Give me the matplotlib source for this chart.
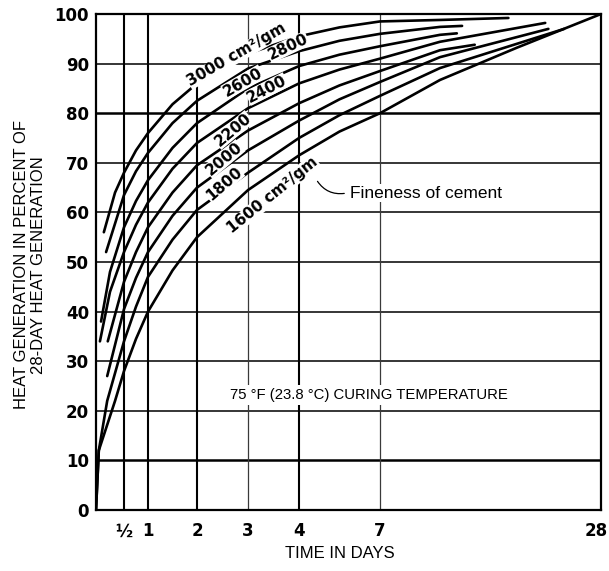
import numpy as np
import matplotlib
matplotlib.use("Agg")
import matplotlib.pyplot as plt
from matplotlib.transforms import ScaledTranslation

# ---- data ----
tick_days = [0.5, 1, 2, 3, 4, 7, 28]
tick_labels = ["½", "1", "2", "3", "4", "7", "28"]
y_ticks = [0, 10, 20, 30, 40, 50, 60, 70, 80, 90, 100]

d3000 = [0.14, 0.34, 0.5, 0.75, 1, 1.5, 2, 3, 4, 5.5, 7, 12.7, 19.2]
v3000 = [56, 64, 68, 72.5, 76, 81.8, 86, 92, 95.5, 97.3, 98.5, 98.8, 99.2]
d2800 = [0.18, 0.5, 0.75, 1, 1.5, 2, 3, 4, 5.5, 7, 12.7, 14.8]
v2800 = [52, 63.5, 68.3, 72, 78, 82.5, 89, 92.5, 94.6, 96, 97.4, 97.6]
d2600 = [0.09, 0.25, 0.5, 0.75, 1, 1.5, 2, 3, 4, 5.5, 7, 12.7, 14.3]
v2600 = [38, 48, 57, 62.3, 66.5, 73, 78, 85, 89.5, 91.8, 93.5, 95.8, 96.1]
d2400 = [0.07, 0.25, 0.5, 0.75, 1, 1.5, 2, 3, 4, 5.5, 7, 12.7, 22.7]
v2400 = [34, 44, 52, 57.5, 62, 68.8, 74, 81, 86, 88.8, 91, 94.4, 98.2]
d2200 = [0.21, 0.5, 0.75, 1, 1.5, 2, 3, 4, 5.5, 7, 12.7, 16]
v2200 = [34, 46, 52, 57, 64, 69.5, 76.5, 82, 85.6, 88.5, 92.7, 93.8]
d2000 = [0.2, 0.5, 0.75, 1, 1.5, 2, 3, 4, 5.5, 7, 12.7, 23]
v2000 = [27, 40.5, 46.8, 52, 59.3, 65, 72.5, 78.5, 82.8, 86.3, 91.3, 97]
d1800 = [0, 0.05, 0.2, 0.5, 0.75, 1, 1.5, 2, 3, 4, 5.5, 7, 12.7, 24.5]
v1800 = [0, 12, 22, 34, 41, 47, 54.5, 60.5, 68, 75, 79.6, 83.5, 89.1, 97]
d1600 = [0, 0.05, 0.34, 0.5, 0.75, 1, 1.5, 2, 3, 4, 5.5, 7, 12.7, 20, 28]
v1600 = [0, 12, 22, 28, 34.5, 40, 48.3, 55, 64.5, 71.5, 76.3, 80, 86.7, 93.2, 100]

curves = [(d3000, v3000), (d2800, v2800), (d2600, v2600), (d2400, v2400),
          (d2200, v2200), (d2000, v2000), (d1800, v1800), (d1600, v1600)]

# ---- axis scale (piecewise, as drawn on the original chart) ----
scale_days = [0, 0.5, 1, 2, 3, 4, 7, 28]
scale_pos = [0, 28, 52, 101, 152, 203, 284, 505]

def fwd(x):
    return np.interp(x, scale_days, scale_pos)

def inv(p):
    return np.interp(p, scale_pos, scale_days)

W, H = 609, 571
fig = plt.figure(figsize=(W / 100, H / 100), dpi=100)
ax = fig.add_axes([96 / W, 1 - 510 / H, (601 - 96) / W, (510 - 14) / H])
ax.set_xscale("function", functions=(fwd, inv))
ax.set_xlim(0, 28)
ax.set_ylim(0, 100)

# grid
for y in y_ticks[1:-1]:
    lw = 1.8 if y in (10, 80) else 1.1
    ax.axhline(y, color="black", lw=lw, zorder=1)
for d in tick_days[:-1]:
    lw = 0.9 if d in (3, 7) else 1.5
    col = "#3a3a3a" if d in (3, 7) else "black"
    top = 0.86 if d == 2 else 1.0
    ax.axvline(d, ymax=top, color=col, lw=lw, zorder=1)

for s in ax.spines.values():
    s.set_linewidth(1.6)

for d, v in curves:
    ax.plot(d, v, color="black", lw=1.9, zorder=3,
            solid_capstyle="round", solid_joinstyle="round")

ax.set_xticks(tick_days)
ax.set_xticklabels(tick_labels)
ax.set_yticks(y_ticks)
ax.tick_params(length=0)
ax.tick_params(axis="y", pad=5)
ax.tick_params(axis="x", pad=9)
for lab in ax.get_xticklabels() + ax.get_yticklabels():
    lab.set_fontweight("bold")
    lab.set_fontsize(12)
    lab.set_family("DejaVu Sans")
xl = ax.get_xticklabels()
xl[-1].set_transform(xl[-1].get_transform() +
                     ScaledTranslation(-5 / 100, 0, fig.dpi_scale_trans))

def px(x, y):
    return (x / W, 1 - y / H)

fig.text(*px(340, 553), "TIME IN DAYS", ha="center", va="center",
         family="Liberation Sans", fontsize=12)
fig.text(*px(30, 265), "HEAT GENERATION IN PERCENT OF\n28-DAY HEAT GENERATION",
         ha="center", va="center", rotation=90, multialignment="center",
         family="Liberation Sans", fontsize=12, linespacing=1.15)

# curve labels (placed in pixel coordinates of the figure), drawn over the
# curves so that each label interrupts the lines, as on the original
wb = dict(facecolor="white", edgecolor="none", pad=0.2)
curve_labels = [
    ("3000 cm²/gm", 237, 55, 30),
    ("2800", 288, 47, 25),
    ("2600", 243, 82, 30),
    ("2400", 267, 89, 27),
    ("2200", 233, 130, 40),
    ("2000", 224, 159, 40),
    ("1800", 224, 184, 41),
    ("1600 cm²/gm", 273, 195, 39),
]
for txt, x, y, rot in curve_labels:
    fig.text(*px(x, y), txt, rotation=rot, rotation_mode="anchor",
             ha="center", va="center", fontsize=11, fontweight="bold",
             family="DejaVu Sans", bbox=wb, zorder=4)

fig.text(*px(350, 193), "Fineness of cement", ha="left", va="center",
         fontsize=12.5, family="Liberation Sans",
         bbox=dict(facecolor="white", edgecolor="none", pad=1), zorder=2.5)
ax.annotate("", xy=px(316, 179), xycoords="figure fraction",
            xytext=px(347, 193), textcoords="figure fraction",
            arrowprops=dict(arrowstyle="-", color="black", lw=0.9,
                            connectionstyle="arc3,rad=-0.35"))

fig.text(*px(369, 395), "75 °F (23.8 °C) CURING TEMPERATURE", ha="center",
         va="center", fontsize=10.7, family="Liberation Sans",
         bbox=dict(facecolor="white", edgecolor="none", pad=2), zorder=2.5)

fig.savefig("out.png", dpi=100)
